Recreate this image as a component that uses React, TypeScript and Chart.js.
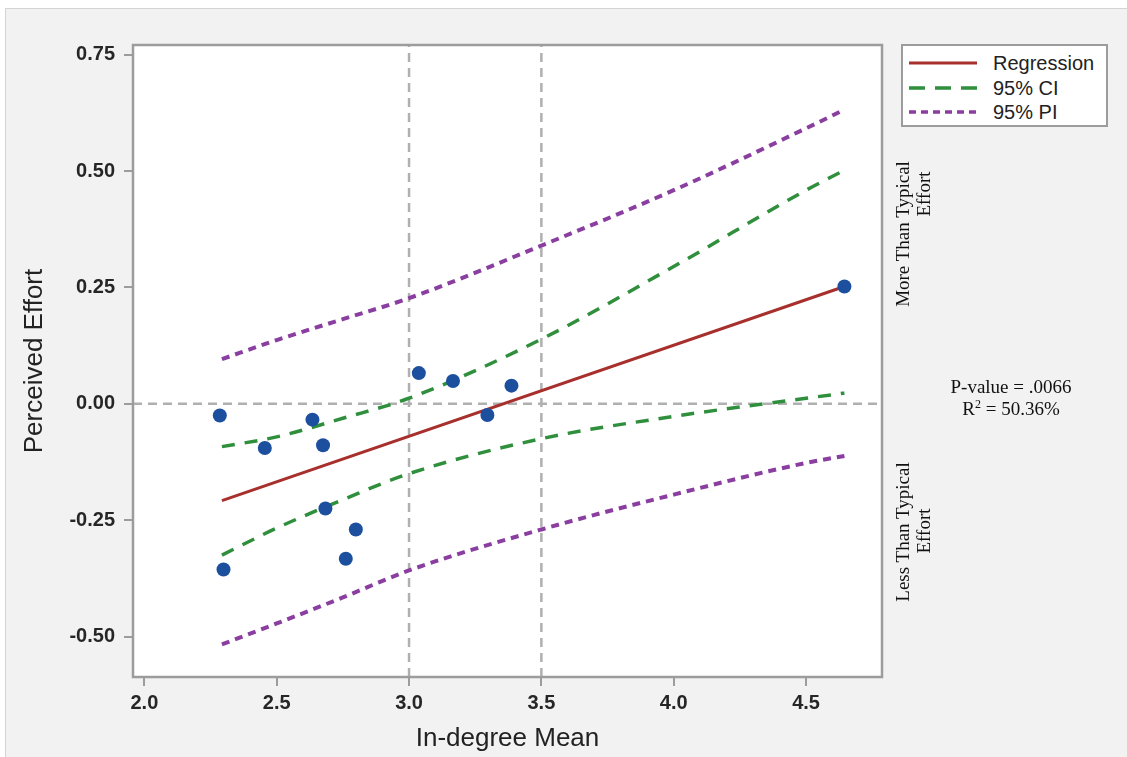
import React, { useEffect, useRef } from "react";
import { Chart, registerables } from "chart.js";

Chart.register(...registerables);

// ---- data ----
const pointX = [2.285, 2.299, 2.455, 2.635, 2.675, 2.684, 2.761, 2.799, 3.037, 3.166, 3.296, 3.387, 4.645];
const pointY = [-0.025, -0.356, -0.095, -0.034, -0.089, -0.225, -0.333, -0.270, 0.066, 0.049, -0.024, 0.039, 0.252];

const regX = [2.293, 4.645];
const regY = [-0.208, 0.252];

const bandX = [2.293, 2.5, 2.75, 3.0, 3.5, 4.0, 4.5, 4.645];
const ciUpper = [-0.092, -0.071, -0.031, 0.012, 0.139, 0.295, 0.459, 0.502];
const ciLower = [-0.325, -0.267, -0.206, -0.150, -0.075, -0.027, 0.012, 0.023];
const piUpper = [0.096, 0.137, 0.182, 0.227, 0.340, 0.459, 0.592, 0.632];
const piLower = [-0.517, -0.472, -0.416, -0.358, -0.270, -0.195, -0.127, -0.112];

const refVerticalX = [3.0, 3.5];
const refHorizontalY = [0.0];

const xTicks = [2.0, 2.5, 3.0, 3.5, 4.0, 4.5];
const yTicks = [-0.5, -0.25, 0.0, 0.25, 0.5, 0.75];

const X_MIN = 1.957;
const X_MAX = 4.787;
const Y_MIN = -0.587;
const Y_MAX = 0.771;

const legendItems = [
  { label: "Regression", color: "#a8302c", dash: "", width: 3 },
  { label: "95% CI", color: "#2f8f3c", dash: "16 10", width: 3.5 },
  { label: "95% PI", color: "#8a3fa0", dash: "7 5", width: 3.5 },
];

const SANS = "'Liberation Sans', Arial, Helvetica, sans-serif";
const SERIF = "'Liberation Serif', 'Times New Roman', Times, serif";

const zip = (xs: number[], ys: number[]) => xs.map((x, i) => ({ x, y: ys[i] }));

const framePlugin = {
  id: "frame",
  beforeDraw(chart: any) {
    const { ctx, chartArea } = chart;
    const { left, top, right, bottom } = chartArea;
    ctx.save();
    ctx.fillStyle = "#ffffff";
    ctx.fillRect(left, top, right - left, bottom - top);
    ctx.restore();
  },
  afterDraw(chart: any) {
    const { ctx, chartArea } = chart;
    const { left, top, right, bottom } = chartArea;
    ctx.save();
    ctx.strokeStyle = "#9c9c9c";
    ctx.lineWidth = 2.5;
    ctx.strokeRect(left, top, right - left, bottom - top);
    ctx.restore();
  },
};

export default function App() {
  const canvasRef = useRef<HTMLCanvasElement | null>(null);

  useEffect(() => {
    if (!canvasRef.current) return;
    const refDatasets: any[] = [];
    refVerticalX.forEach((x) => {
      refDatasets.push({
        label: "ref-v-" + x,
        data: [
          { x, y: Y_MIN },
          { x, y: Y_MAX },
        ],
        showLine: true,
        borderColor: "#b0b0b0",
        borderWidth: 2.5,
        borderDash: [9, 6],
        pointRadius: 0,
        order: 10,
      });
    });
    refHorizontalY.forEach((y) => {
      refDatasets.push({
        label: "ref-h-" + y,
        data: [
          { x: X_MIN, y },
          { x: X_MAX, y },
        ],
        showLine: true,
        borderColor: "#b0b0b0",
        borderWidth: 2.5,
        borderDash: [9, 6],
        pointRadius: 0,
        order: 10,
      });
    });

    const chart = new Chart(canvasRef.current, {
      type: "scatter",
      data: {
        datasets: [
          {
            label: "Observed",
            data: zip(pointX, pointY),
            backgroundColor: "#1c4f9e",
            borderColor: "#1c4f9e",
            pointRadius: 7,
            pointBorderWidth: 0,
            showLine: false,
            order: 0,
          },
          {
            label: "Regression",
            data: zip(regX, regY),
            showLine: true,
            borderColor: legendItems[0].color,
            borderWidth: 3,
            pointRadius: 0,
            order: 1,
          },
          {
            label: "95% CI upper",
            data: zip(bandX, ciUpper),
            showLine: true,
            borderColor: legendItems[1].color,
            borderWidth: 3.5,
            borderDash: [13, 10],
            cubicInterpolationMode: "monotone",
            pointRadius: 0,
            order: 2,
          },
          {
            label: "95% CI lower",
            data: zip(bandX, ciLower),
            showLine: true,
            borderColor: legendItems[1].color,
            borderWidth: 3.5,
            borderDash: [13, 10],
            cubicInterpolationMode: "monotone",
            pointRadius: 0,
            order: 2,
          },
          {
            label: "95% PI upper",
            data: zip(bandX, piUpper),
            showLine: true,
            borderColor: legendItems[2].color,
            borderWidth: 4,
            borderDash: [8, 6],
            cubicInterpolationMode: "monotone",
            pointRadius: 0,
            order: 3,
          },
          {
            label: "95% PI lower",
            data: zip(bandX, piLower),
            showLine: true,
            borderColor: legendItems[2].color,
            borderWidth: 4,
            borderDash: [8, 6],
            cubicInterpolationMode: "monotone",
            pointRadius: 0,
            order: 3,
          },
          ...refDatasets,
        ],
      },
      options: {
        animation: false,
        responsive: false,
        devicePixelRatio: 1,
        layout: { padding: { left: 0, top: 37, right: 245, bottom: 0 } },
        plugins: {
          legend: { display: false },
          tooltip: { enabled: false },
        },
        scales: {
          x: {
            type: "linear",
            min: X_MIN,
            max: X_MAX,
            afterBuildTicks: (scale: any) => {
              scale.ticks = xTicks.map((v) => ({ value: v }));
            },
            afterFit: (scale: any) => {
              scale.height = 80;
            },
            grid: {
              drawOnChartArea: false,
              drawTicks: true,
              tickLength: 9,
              color: "#9c9c9c",
              lineWidth: 2,
            },
            border: { display: false },
            ticks: {
              padding: 5,
              color: "#262626",
              font: { family: SANS, size: 20, weight: "bold" },
              maxRotation: 0,
              callback: (v: any) => Number(v).toFixed(1),
            },
            title: {
              display: true,
              text: "In-degree Mean",
              color: "#222",
              font: { family: SANS, size: 26 },
              padding: { top: 0, bottom: 3 },
            },
          },
          y: {
            type: "linear",
            min: Y_MIN,
            max: Y_MAX,
            afterBuildTicks: (scale: any) => {
              scale.ticks = yTicks.map((v) => ({ value: v }));
            },
            afterFit: (scale: any) => {
              scale.width = 128;
            },
            grid: {
              drawOnChartArea: false,
              drawTicks: true,
              tickLength: 9,
              color: "#9c9c9c",
              lineWidth: 2,
            },
            border: { display: false },
            ticks: {
              padding: 9,
              color: "#262626",
              font: { family: SANS, size: 20, weight: "bold" },
              callback: (v: any) => Number(v).toFixed(2),
            },
            title: {
              display: true,
              text: "Perceived Effort",
              color: "#222",
              font: { family: SANS, size: 26 },
              padding: { top: 14, bottom: 0 },
            },
          },
        },
      } as any,
      plugins: [framePlugin],
    });
    return () => chart.destroy();
  }, []);

  const rotated = (text: string, cx: number, cy: number) => (
    <div
      style={{
        position: "absolute",
        left: cx,
        top: cy,
        transform: "translate(-50%, -50%) rotate(-90deg)",
        whiteSpace: "nowrap",
        fontFamily: SERIF,
        fontSize: 19,
        color: "#111",
        lineHeight: "21px",
      }}
    >
      {text}
    </div>
  );

  // panel is fixed at page (5, 8)
  return (
    <div
      style={{
        position: "fixed",
        left: 5,
        top: 8,
        width: 1122,
        height: 749,
        background: "#f2f2f2",
        boxShadow: "inset 1px 1px 0 #d4d4d4",
        overflow: "hidden",
      }}
    >
      <canvas
        ref={canvasRef}
        width={1122}
        height={749}
        style={{ position: "absolute", left: 0, top: 0, width: 1122, height: 749 }}
      />
      <div
        style={{
          position: "absolute",
          left: 896,
          top: 36,
          width: 203,
          height: 79,
          background: "#fff",
          border: "2px solid #9c9c9c",
          fontFamily: SANS,
          fontSize: 20,
          color: "#222",
        }}
      >
        {legendItems.map((it, i) => (
          <div
            key={it.label}
            style={{
              position: "absolute",
              left: 0,
              top: 5 + i * 24.5,
              height: 24,
              width: 200,
              display: "flex",
              alignItems: "center",
            }}
          >
            <svg width={70} height={8} style={{ marginLeft: 6, flex: "none" }}>
              <line
                x1={0}
                y1={4}
                x2={68}
                y2={4}
                stroke={it.color}
                strokeWidth={it.width}
                strokeDasharray={it.dash || undefined}
              />
            </svg>
            <span style={{ marginLeft: 14, lineHeight: "24px" }}>{it.label}</span>
          </div>
        ))}
      </div>
      {rotated("More Than Typical", 897, 226)}
      {rotated("Effort", 918, 186)}
      {rotated("Less Than Typical", 897, 524)}
      {rotated("Effort", 918, 523)}
      <div
        style={{
          position: "absolute",
          left: 1006,
          top: 379,
          transform: "translate(-50%, -50%)",
          whiteSpace: "nowrap",
          fontFamily: SERIF,
          fontSize: 19,
          color: "#111",
        }}
      >
        P-value = .0066
      </div>
      <div
        style={{
          position: "absolute",
          left: 1006,
          top: 401,
          transform: "translate(-50%, -50%)",
          whiteSpace: "nowrap",
          fontFamily: SERIF,
          fontSize: 19,
          color: "#111",
        }}
      >
        R<sup style={{ fontSize: 12, verticalAlign: "top", position: "relative", top: -1 }}>2</sup> = 50.36%
      </div>
    </div>
  );
}
